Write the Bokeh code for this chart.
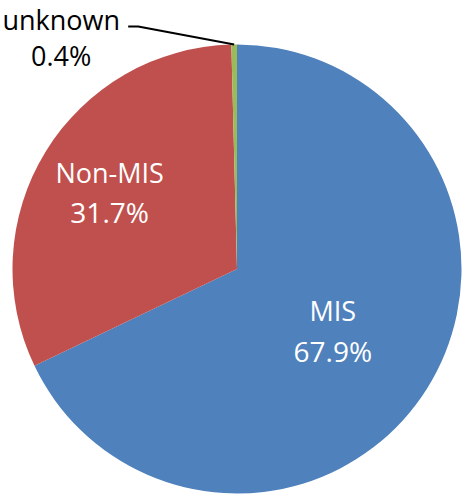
import math
from bokeh.plotting import figure
from bokeh.models import Range1d
from bokeh.core.properties import value
from bokeh.embed import file_html
from bokeh.resources import INLINE

categories = ["MIS", "Non-MIS", "unknown"]
shares = [67.9, 31.7, 0.4]
pct_labels = ["67.9%", "31.7%", "0.4%"]
colors = ["#4F81BD", "#C0504D", "#9BBB59"]

W, H = 465, 494
cx, cy, r = 236.5, H - 268.5, 224.5

p = figure(width=W, height=H, output_backend="svg", toolbar_location=None,
           x_range=Range1d(0, W), y_range=Range1d(0, H),
           x_axis_location=None, y_axis_location=None, min_border=0)
p.outline_line_color = None
p.grid.visible = False

total = sum(shares)
starts, ends, mids = [], [], []
acc = 0.0
for s in shares:
    a0 = math.pi / 2 - 2 * math.pi * acc / total
    acc += s
    a1 = math.pi / 2 - 2 * math.pi * acc / total
    starts.append(a0)
    ends.append(a1)
    mids.append((a0 + a1) / 2)

p.wedge(x=[cx] * 3, y=[cy] * 3, radius=r, start_angle=starts, end_angle=ends,
        direction="clock", fill_color=colors, line_color=None)

font = value("Open Sans")
fs = "27px"
fs_pct = "28px"
label_frac = [0.515, 0.655]
gap = 20
for i in range(2):
    lx = cx + label_frac[i] * r * math.cos(mids[i]) - 2
    ly = cy + label_frac[i] * r * math.sin(mids[i])
    p.text(x=[lx], y=[ly + gap], text=[categories[i]], text_font=font,
           text_font_size=fs, text_color="white", text_align="center",
           text_baseline="middle")
    p.text(x=[lx], y=[ly - gap], text=[pct_labels[i]], text_font=font,
           text_font_size=fs_pct, text_color="white", text_align="center",
           text_baseline="middle")

# unknown label with leader line
ex = cx + r * math.cos(mids[2])
ey = cy + r * math.sin(mids[2])
kx, ky = ex - 96, ey + 18
p.line(x=[ex, kx, kx - 10], y=[ey, ky, ky], line_color="black", line_width=2)
ulx = kx - 77
p.text(x=[ulx], y=[ky + 7], text=[categories[2]], text_font=font,
       text_font_size=fs, text_color="black", text_align="center",
       text_baseline="middle")
p.text(x=[ulx], y=[ky - 29], text=[pct_labels[2]], text_font=font,
       text_font_size=fs, text_color="black", text_align="center",
       text_baseline="middle")

open("out.html", "w").write(file_html(p, INLINE))
